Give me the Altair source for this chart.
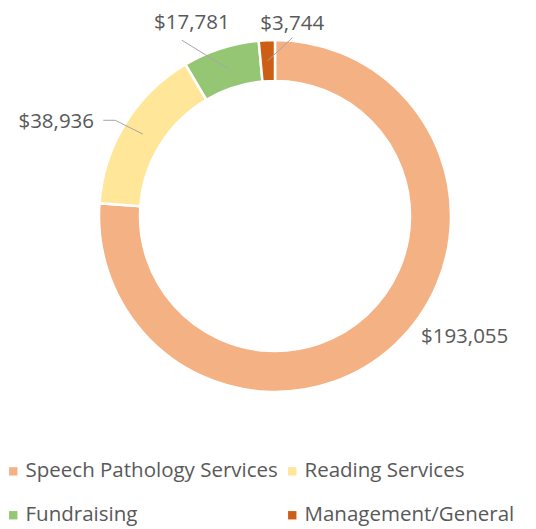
import math
import altair as alt
import pandas as pd

# ---- data ----
categories = ["Speech Pathology Services", "Reading Services", "Fundraising", "Management/General"]
amounts = [193055, 38936, 17781, 3744]
label_texts = ["$193,055", "$38,936", "$17,781", "$3,744"]
colors = ["#F4B183", "#FFE699", "#95C674", "#CD5E15"]

# ---- layout constants ----
CX, CY = 267, 208
R_OUT, R_IN = 176, 135
R_MID = (R_OUT + R_IN) / 2
label_r = [225, 238, 210, 193]
label_shift = [-14.5, -8.6, -5.4, 7.8]
leader_offsets = [None, [(47, -2), (59, -2)], [(-10, 17)], [(0, 14)]]
FONT = "Open Sans"
TXT = "#595959"

total = sum(amounts)
df = pd.DataFrame({"category": categories, "amount": amounts, "idx": list(range(len(categories)))})

# derived label / leader positions
lab_rows, lead_rows = [], []
cum = 0.0
for i, (c, a) in enumerate(zip(categories, amounts)):
    start = cum / total * 360
    cum += a
    end = cum / total * 360
    mid = (start + end) / 2
    la = math.radians(mid + label_shift[i])
    lx = CX + label_r[i] * math.sin(la)
    ly = CY - label_r[i] * math.cos(la)
    lab_rows.append({"text": label_texts[i], "x": lx, "y": ly})
    if leader_offsets[i]:
        pts = [(lx + dx, ly + dy) for dx, dy in leader_offsets[i]]
        ma = math.radians(mid)
        pts.append((CX + R_MID * math.sin(ma), CY - R_MID * math.cos(ma)))
        for k, (px, py) in enumerate(pts):
            lead_rows.append({"category": c, "k": k, "x": px, "y": py})

labels_df = pd.DataFrame(lab_rows)
leaders_df = pd.DataFrame(lead_rows)

donut = alt.Chart(df).mark_arc(
    innerRadius=R_IN, outerRadius=R_OUT, stroke="white", strokeWidth=2.5
).encode(
    theta=alt.Theta("amount:Q", stack=True),
    order=alt.Order("idx:Q", sort="ascending"),
    x=alt.value(CX),
    y=alt.value(CY),
    color=alt.Color(
        "category:N",
        sort=categories,
        scale=alt.Scale(domain=categories, range=colors),
        legend=alt.Legend(
            title=None, orient="none", legendX=-5, legendY=453,
            columns=2, direction="horizontal", padding=0,
            symbolType="square", symbolSize=70, symbolStrokeWidth=0,
            labelFont=FONT, labelFontSize=20.5, labelColor=TXT, labelLimit=400,
            labelOffset=2, rowPadding=23, columnPadding=4,
        ),
    ),
)

leaders = alt.Chart(leaders_df).mark_line(color="#A6A6A6", strokeWidth=1).encode(
    x=alt.X("x:Q", scale=None),
    y=alt.Y("y:Q", scale=None),
    detail="category:N",
    order="k:Q",
)

labels = alt.Chart(labels_df).mark_text(
    font=FONT, fontSize=20.5, color=TXT, align="center", baseline="middle"
).encode(
    x=alt.X("x:Q", scale=None),
    y=alt.Y("y:Q", scale=None),
    text="text:N",
)

chart = alt.layer(donut, leaders, labels).properties(
    width=520, height=521, autosize="none", padding=0
).configure_view(stroke=None)

chart.save("out.html", embed_options={"renderer": "svg", "actions": False})
